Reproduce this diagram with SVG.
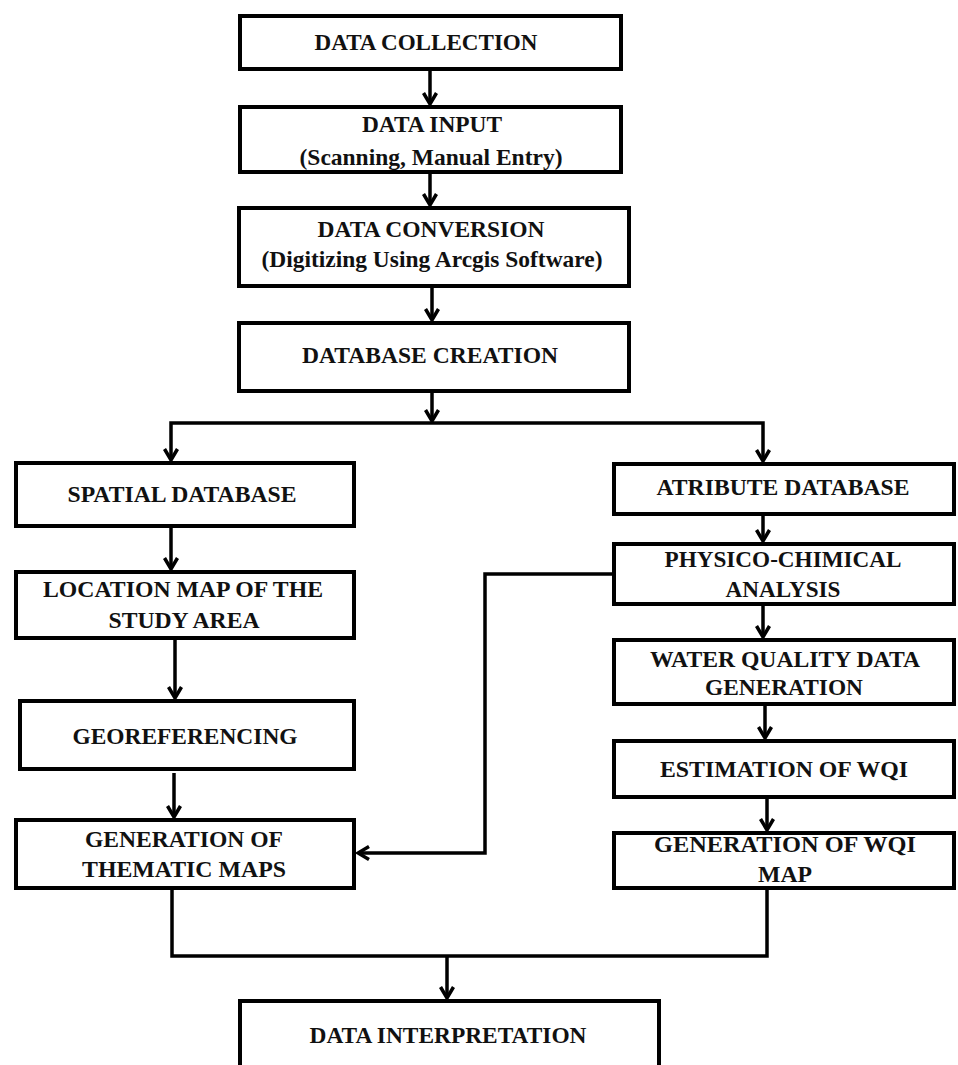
<svg xmlns="http://www.w3.org/2000/svg" width="958" height="1065" viewBox="0 0 958 1065">
<style>
.box{fill:#fff;stroke:#000;stroke-width:4}
.t{font-family:"Liberation Serif","Times New Roman",serif;font-weight:bold;font-size:24px;fill:#111;text-anchor:middle}
.c{fill:none;stroke:#000;stroke-width:3.5}
</style>
<defs>
<marker id="ah" viewBox="0 0 16 16" refX="14" refY="8" markerWidth="16" markerHeight="16" markerUnits="userSpaceOnUse" orient="auto">
<path d="M3,1.5 L14,8 L3,14.5" fill="none" stroke="#000" stroke-width="3.5"/>
</marker>
</defs>
<rect width="958" height="1065" fill="#fff"/>
<g id="connectors">
<path class="c" d="M430,70 V104" marker-end="url(#ah)"/>
<path class="c" d="M430,174 V205" marker-end="url(#ah)"/>
<path class="c" d="M432,288 V320" marker-end="url(#ah)"/>
<path class="c" d="M432,393 V421" marker-end="url(#ah)"/>
<path class="c" d="M432,423 H171 V460" marker-end="url(#ah)"/>
<path class="c" d="M432,423 H763 V461" marker-end="url(#ah)"/>
<path class="c" d="M171,528 V569" marker-end="url(#ah)"/>
<path class="c" d="M175,640 V698" marker-end="url(#ah)"/>
<path class="c" d="M174,773 V817" marker-end="url(#ah)"/>
<path class="c" d="M763,516 V541" marker-end="url(#ah)"/>
<path class="c" d="M763,606 V637" marker-end="url(#ah)"/>
<path class="c" d="M765,706 V738" marker-end="url(#ah)"/>
<path class="c" d="M767,799 V830" marker-end="url(#ah)"/>
<path class="c" d="M612,574 H485 V853 H358" marker-end="url(#ah)"/>
<path class="c" d="M172,890 V956 H767 V890"/>
<path class="c" d="M447,956 V998" marker-end="url(#ah)"/>
</g>
<g id="n1"><rect class="box" x="240" y="16" width="381" height="53"/><text class="t" x="426" y="50" textLength="223" lengthAdjust="spacingAndGlyphs">DATA COLLECTION</text></g>
<g id="n2"><rect class="box" x="240" y="107" width="381" height="65"/><text class="t" x="432" y="132" textLength="140" lengthAdjust="spacingAndGlyphs">DATA INPUT</text><text class="t" x="431" y="165" textLength="263" lengthAdjust="spacingAndGlyphs">(Scanning, Manual Entry)</text></g>
<g id="n3"><rect class="box" x="239" y="208" width="390" height="78"/><text class="t" x="431" y="237" textLength="227" lengthAdjust="spacingAndGlyphs">DATA CONVERSION</text><text class="t" x="432" y="267" textLength="341" lengthAdjust="spacingAndGlyphs">(Digitizing Using Arcgis Software)</text></g>
<g id="n4"><rect class="box" x="239" y="323" width="390" height="68"/><text class="t" x="430" y="363" textLength="256" lengthAdjust="spacingAndGlyphs">DATABASE CREATION</text></g>
<g id="n5"><rect class="box" x="16" y="463" width="338" height="63"/><text class="t" x="182" y="502" textLength="229" lengthAdjust="spacingAndGlyphs">SPATIAL DATABASE</text></g>
<g id="n6"><rect class="box" x="16" y="572" width="338" height="66"/><text class="t" x="183" y="597" textLength="280" lengthAdjust="spacingAndGlyphs">LOCATION MAP OF THE</text><text class="t" x="184" y="628" textLength="151" lengthAdjust="spacingAndGlyphs">STUDY AREA</text></g>
<g id="n7"><rect class="box" x="20" y="701" width="334" height="68"/><text class="t" x="185" y="744" textLength="225" lengthAdjust="spacingAndGlyphs">GEOREFERENCING</text></g>
<g id="n8"><rect class="box" x="16" y="820" width="338" height="68"/><text class="t" x="184" y="847" textLength="198" lengthAdjust="spacingAndGlyphs">GENERATION OF</text><text class="t" x="184" y="877" textLength="204" lengthAdjust="spacingAndGlyphs">THEMATIC MAPS</text></g>
<g id="n9"><rect class="box" x="240" y="1001" width="419" height="80"/><text class="t" x="448" y="1043" textLength="277" lengthAdjust="spacingAndGlyphs">DATA INTERPRETATION</text></g>
<g id="n10"><rect class="box" x="614" y="464" width="340" height="50"/><text class="t" x="783" y="495" textLength="253" lengthAdjust="spacingAndGlyphs">ATRIBUTE DATABASE</text></g>
<g id="n11"><rect class="box" x="614" y="544" width="340" height="60"/><text class="t" x="783" y="567" textLength="237" lengthAdjust="spacingAndGlyphs">PHYSICO-CHIMICAL</text><text class="t" x="783" y="597" textLength="115" lengthAdjust="spacingAndGlyphs">ANALYSIS</text></g>
<g id="n12"><rect class="box" x="614" y="640" width="340" height="64"/><text class="t" x="785" y="667" textLength="270" lengthAdjust="spacingAndGlyphs">WATER QUALITY DATA</text><text class="t" x="784" y="695" textLength="158" lengthAdjust="spacingAndGlyphs">GENERATION</text></g>
<g id="n13"><rect class="box" x="614" y="741" width="340" height="56"/><text class="t" x="784" y="777" textLength="248" lengthAdjust="spacingAndGlyphs">ESTIMATION OF WQI</text></g>
<g id="n14"><rect class="box" x="614" y="833" width="340" height="55"/><text class="t" x="785" y="852" textLength="262" lengthAdjust="spacingAndGlyphs">GENERATION OF WQI</text><text class="t" x="785" y="882" textLength="54" lengthAdjust="spacingAndGlyphs">MAP</text></g>
</svg>
